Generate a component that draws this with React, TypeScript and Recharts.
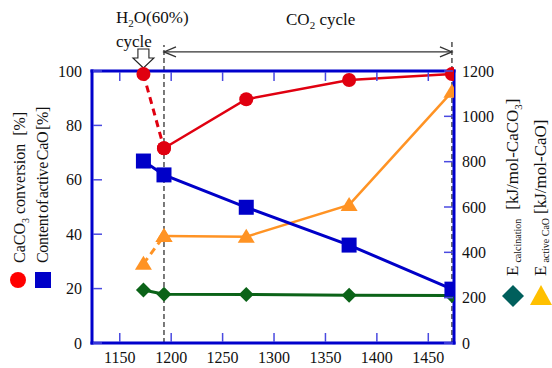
import React from 'react';
import { ComposedChart, Line, XAxis, YAxis, ReferenceLine, ReferenceDot } from 'recharts';

// calcination temperature [K]
const temperatures = [1173, 1193, 1273, 1373, 1473];
// left axis [%]
const caco3Conversion = [98.9, 71.6, 89.6, 96.7, 98.9];
const activeCaO = [66.9, 61.8, 49.9, 36.0, 19.8];
// right axis [kJ/mol]
const eCalcination = [234, 215, 214, 211, 210];
const eActiveCaO = [350, 472, 469, 609, 1108];

const xTicks = [1150, 1200, 1250, 1300, 1350, 1400, 1450];
const leftTicks = [0, 20, 40, 60, 80, 100];
const rightTicks = [0, 200, 400, 600, 800, 1000, 1200];

// first point is the H2O(60%) cycle, linked with a dashed segment
const dashedUpTo = 1;

// annotation extents (left-axis units)
const co2StartT = 1193;
const co2EndT = 1473;
const h2oT = 1173;
const arrowLevel = 107;
const guideTopStart = 109.6;
const guideTopEnd = 111.4;
const h2oArrowTip = 101.1;

const data = temperatures.map((t, i) => ({
  t,
  conv: i >= dashedUpTo ? caco3Conversion[i] : null,
  convDash: i <= dashedUpTo ? caco3Conversion[i] : null,
  active: activeCaO[i],
  eCalc: eCalcination[i],
  eAct: i >= dashedUpTo ? eActiveCaO[i] : null,
  eActDash: i <= dashedUpTo ? eActiveCaO[i] : null,
}));

const RED = '#e00010';
const BLUE = '#0000c8';
const ORANGE = '#ff9324';
const GREEN = '#0b6318';
const FRAME = '#0000cc';
const TICK = '#4a4ae0';
const FONT = 'Liberation Serif';

const ok = (p: any) => p.cx != null && p.cy != null && !isNaN(p.cx) && !isNaN(p.cy);

const circleDot = (p: any) =>
  ok(p) ? <circle key={`c-${p.index}`} cx={p.cx} cy={p.cy} r={7} fill={RED} /> : <g key={`c-${p.index}`} />;

const squareDot = (p: any) =>
  ok(p) ? <rect key={`s-${p.index}`} x={p.cx - 7.5} y={p.cy - 7.5} width={15} height={15} fill={BLUE} /> : <g key={`s-${p.index}`} />;

const triangleDot = (p: any) =>
  ok(p) ? (
    <polygon
      key={`t-${p.index}`}
      points={`${p.cx},${p.cy - 8} ${p.cx - 8.5},${p.cy + 6} ${p.cx + 8.5},${p.cy + 6}`}
      fill={ORANGE}
    />
  ) : <g key={`t-${p.index}`} />;

const diamondDot = (p: any) =>
  ok(p) ? (
    <polygon
      key={`d-${p.index}`}
      points={`${p.cx},${p.cy - 7.5} ${p.cx + 7.5},${p.cy} ${p.cx},${p.cy + 7.5} ${p.cx - 7.5},${p.cy}`}
      fill={GREEN}
    />
  ) : <g key={`d-${p.index}`} />;

const tickText = { fontFamily: FONT, fontSize: 16, fill: '#111' };

const BottomTick = ({ x, y, payload }: any) => (
  <g>
    <line x1={x} y1={y - 1} x2={x} y2={y - 10} stroke={TICK} strokeWidth={1.5} />
    <text x={x} y={y + 20} textAnchor="middle" style={tickText}>
      {payload.value}
    </text>
  </g>
);

const TopTick = ({ x, y }: any) => (
  <line x1={x} y1={y + 1} x2={x} y2={y + 10} stroke={TICK} strokeWidth={1.5} />
);

const LeftTick = ({ x, y, payload }: any) => (
  <g>
    <line x1={x + 1} y1={y} x2={x + 10} y2={y} stroke={TICK} strokeWidth={1.5} />
    <text x={x - 10} y={y + 5.5} textAnchor="end" style={tickText}>
      {payload.value}
    </text>
  </g>
);

const RightTick = ({ x, y, payload }: any) => (
  <g>
    <line x1={x - 1} y1={y} x2={x - 10} y2={y} stroke={TICK} strokeWidth={1.5} />
    <text x={x + 8} y={y + 5.5} textAnchor="start" style={tickText}>
      {payload.value}
    </text>
  </g>
);

// double headed open arrow for the CO2 cycle span
const SpanArrow = (p: any) => (
  <g stroke="#333" strokeWidth={1.3} fill="none">
    <line x1={p.x1} y1={p.y1} x2={p.x2} y2={p.y2} />
    <polyline points={`${p.x1 + 12},${p.y1 - 5} ${p.x1},${p.y1} ${p.x1 + 12},${p.y1 + 5}`} />
    <polyline points={`${p.x2 - 12},${p.y2 - 5} ${p.x2},${p.y2} ${p.x2 - 12},${p.y2 + 5}`} />
  </g>
);

// hollow arrow pointing at the H2O cycle point
const HollowArrow = (p: any) => {
  const { cx, cy } = p;
  const pts = [
    [cx, cy],
    [cx - 10.5, cy - 10],
    [cx - 5.5, cy - 10],
    [cx - 5.5, cy - 19],
    [cx + 5.5, cy - 19],
    [cx + 5.5, cy - 10],
    [cx + 10.5, cy - 10],
  ]
    .map((q) => q.join(','))
    .join(' ');
  return <polygon points={pts} fill="#fff" stroke="#222" strokeWidth={1.1} />;
};

const Labels = () => (
  <svg
    width={552}
    height={368}
    style={{ position: 'absolute', left: 0, top: 0, pointerEvents: 'none', fontFamily: FONT }}
    fill="#111"
  >
    <text x={116} y={23} fontSize={17}>
      H<tspan fontSize={11} dy={4}>2</tspan>
      <tspan dy={-4}>O(60%)</tspan>
    </text>
    <text x={116} y={47} fontSize={17}>cycle</text>
    <text x={286} y={25} fontSize={17}>
      CO<tspan fontSize={11} dy={4}>2</tspan>
      <tspan dy={-4}> cycle</tspan>
    </text>

    <g transform="translate(25,263) rotate(-90)">
      <text x={0} y={0} fontSize={16}>
        CaCO<tspan fontSize={10} dy={4}>3</tspan>
        <tspan dy={-4}> conversion{'\u00a0 '}[%]</tspan>
      </text>
    </g>
    <g transform="translate(48,263) rotate(-90)">
      <text x={0} y={0} fontSize={16} letterSpacing={-0.3} wordSpacing={-2}>
        Content of active CaO [%]
      </text>
    </g>
    <circle cx={18} cy={280} r={8} fill="#ff0000" />
    <rect x={35} y={272} width={16} height={16} fill={BLUE} />

    <g transform="translate(518,276) rotate(-90)">
      <text x={0} y={0} fontSize={17}>
        E<tspan fontSize={10} dy={3} dx={3}>calcination</tspan>
        <tspan dy={-3} dx={9}>[kJ/mol-CaCO</tspan>
        <tspan fontSize={11} dy={4}>3</tspan>
        <tspan dy={-4}>]</tspan>
      </text>
    </g>
    <g transform="translate(546,276) rotate(-90)">
      <text x={0} y={0} fontSize={17}>
        E<tspan fontSize={10} dy={3} dx={3}>active CaO</tspan>
        <tspan dy={-3} dx={4}>[kJ/mol-CaO]</tspan>
      </text>
    </g>
    <polygon points="513,285 524,296 513,307 502,296" fill="#005f5c" />
    <polygon points="541,285 552,305 530,305" fill="#ffc000" />
  </svg>
);

export default function App() {
  return (
    <div style={{ position: 'absolute', left: 0, top: 0, width: 552, height: 368, background: '#fff' }}>
      <ComposedChart width={552} height={368} data={data} margin={{ top: 61, right: 48, bottom: 0, left: 42 }}>
        <XAxis
          dataKey="t"
          type="number"
          domain={[1123, 1475]}
          ticks={xTicks}
          allowDataOverflow
          height={25}
          tickSize={0}
          tickMargin={0}
          tick={BottomTick}
          axisLine={{ stroke: FRAME, strokeWidth: 3, strokeLinecap: 'square' }}
        />
        <XAxis
          xAxisId="top"
          dataKey="t"
          orientation="top"
          type="number"
          domain={[1123, 1475]}
          ticks={xTicks}
          allowDataOverflow
          height={10}
          tickSize={0}
          tickMargin={0}
          tick={TopTick}
          axisLine={{ stroke: FRAME, strokeWidth: 3, strokeLinecap: 'square' }}
        />
        <YAxis
          yAxisId="left"
          type="number"
          domain={[0, 100]}
          ticks={leftTicks}
          width={50}
          tickSize={0}
          tickMargin={0}
          tick={LeftTick}
          axisLine={{ stroke: FRAME, strokeWidth: 3, strokeLinecap: 'square' }}
        />
        <YAxis
          yAxisId="right"
          orientation="right"
          type="number"
          domain={[0, 1200]}
          ticks={rightTicks}
          width={50}
          tickSize={0}
          tickMargin={0}
          tick={RightTick}
          axisLine={{ stroke: FRAME, strokeWidth: 3, strokeLinecap: 'square' }}
        />

        <ReferenceLine
          yAxisId="left"
          segment={[{ x: co2StartT, y: 0 }, { x: co2StartT, y: guideTopStart }]}
          stroke="#222"
          strokeWidth={1.2}
          strokeDasharray="5 3"
          ifOverflow="visible"
        />
        <ReferenceLine
          yAxisId="left"
          segment={[{ x: co2EndT, y: 0 }, { x: co2EndT, y: guideTopEnd }]}
          stroke="#222"
          strokeWidth={1.2}
          strokeDasharray="5 3"
          ifOverflow="visible"
        />
        <ReferenceLine
          yAxisId="left"
          segment={[{ x: co2StartT, y: arrowLevel }, { x: co2EndT, y: arrowLevel }]}
          ifOverflow="visible"
          shape={SpanArrow}
        />
        <ReferenceDot yAxisId="left" x={h2oT} y={h2oArrowTip} ifOverflow="visible" shape={HollowArrow} />

        <Line yAxisId="right" dataKey="eActDash" stroke={ORANGE} strokeWidth={3} strokeDasharray="7 5" dot={triangleDot} isAnimationActive={false} />
        <Line yAxisId="right" dataKey="eAct" stroke={ORANGE} strokeWidth={2.5} dot={triangleDot} isAnimationActive={false} />
        <Line yAxisId="right" dataKey="eCalc" stroke={GREEN} strokeWidth={3} dot={diamondDot} isAnimationActive={false} />
        <Line yAxisId="left" dataKey="active" stroke={BLUE} strokeWidth={3} dot={squareDot} isAnimationActive={false} />
        <Line yAxisId="left" dataKey="convDash" stroke={RED} strokeWidth={3} strokeDasharray="7 5" dot={circleDot} isAnimationActive={false} />
        <Line yAxisId="left" dataKey="conv" stroke={RED} strokeWidth={2.5} dot={circleDot} isAnimationActive={false} />
      </ComposedChart>
      <Labels />
    </div>
  );
}
